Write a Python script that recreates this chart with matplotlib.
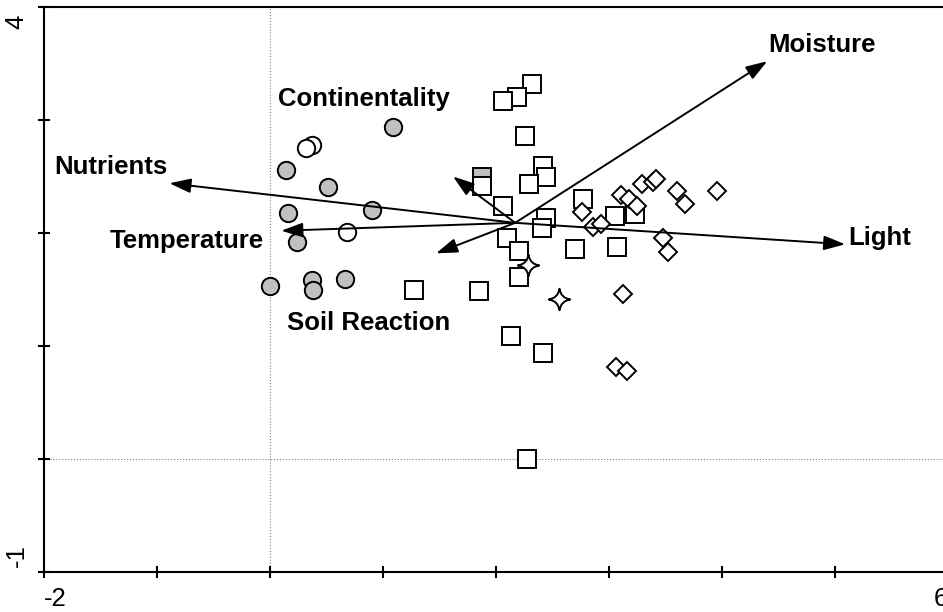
import matplotlib
matplotlib.use('Agg')
import matplotlib.pyplot as plt
from matplotlib.path import Path
from matplotlib.transforms import ScaledTranslation

plt.rcParams['font.family'] = ['Liberation Sans', 'DejaVu Sans']

# site scores
gray_circle_x = [1.09, 0.14, 0.51, 0.16, 0.90, 0.24, 0.00, 0.37, 0.38, 0.66]
gray_circle_y = [2.94, 2.56, 2.41, 2.18, 2.20, 1.92, 1.53, 1.58, 1.50, 1.59]
open_circle_x = [0.37, 0.32, 0.68]
open_circle_y = [2.78, 2.75, 2.01]
gray_square_x = [1.88]
gray_square_y = [2.50]
square_x = [2.32, 2.19, 2.06, 2.26, 1.88, 2.42, 2.44, 2.29, 2.06, 2.77, 2.44, 2.41,
            2.10, 2.20, 2.20, 1.85, 1.27, 2.70, 3.05, 3.07, 3.23, 2.13, 2.42, 2.27]
square_y = [3.32, 3.20, 3.17, 2.86, 2.42, 2.59, 2.50, 2.43, 2.24, 2.30, 2.13, 2.04,
            1.96, 1.84, 1.61, 1.49, 1.50, 1.86, 2.15, 1.88, 2.17, 1.09, 0.94, 0.00]
diamond_x = [2.76, 2.86, 2.93, 3.11, 3.18, 3.25, 3.29, 3.39, 3.42, 3.60, 3.67, 3.96,
             3.48, 3.52, 3.12, 3.06, 3.16]
diamond_y = [2.19, 2.05, 2.08, 2.34, 2.30, 2.24, 2.43, 2.45, 2.48, 2.37, 2.26, 2.37,
             1.96, 1.83, 1.46, 0.81, 0.78]
star_x = [2.28, 2.56]
star_y = [1.72, 1.42]

# environmental vectors
origin = (2.17, 2.09)
vec_names = ['Moisture', 'Light', 'Nutrients', 'Temperature', 'Continentality', 'Soil Reaction']
vec_x = [4.40, 5.09, -0.89, 0.10, 1.62, 1.47]
vec_y = [3.52, 1.90, 2.44, 2.02, 2.50, 1.82]
label_x = [4.41, 5.12, -1.91, -1.42, 0.07, 0.15]
label_y = [3.66, 1.96, 2.58, 1.93, 3.19, 1.20]

fig = plt.figure(figsize=(9.43, 6.12), dpi=100)
ax = fig.add_axes([44 / 943, 40 / 612, 904 / 943, 565 / 612])

ax.axvline(0, color='gray', lw=0.8, ls=':', zorder=1)
ax.axhline(0, color='gray', lw=0.8, ls=':', zorder=1)

gray = '#c0c0c0'
ms_kw = dict(ls='none', mec='black', mew=1.4)
ax.plot(gray_circle_x, gray_circle_y, marker='o', ms=12.5, mfc=gray, zorder=3, **ms_kw)
ax.plot(open_circle_x, open_circle_y, marker='o', ms=12.5, mfc='white', zorder=3, **ms_kw)
ax.plot(gray_square_x, gray_square_y, marker='s', ms=12.5, mfc=gray, zorder=3, **ms_kw)
ax.plot(square_x, square_y, marker='s', ms=12.5, mfc='white', zorder=3, **ms_kw)
ax.plot(diamond_x, diamond_y, marker='D', ms=9, mfc='white', zorder=3, **ms_kw)

# 4 pointed star with curved sides
c = 0.13
star = Path([(0, 1), (c, c), (1, 0), (c, -c), (0, -1), (-c, -c), (-1, 0), (-c, c), (0, 1), (0, 1)],
            [Path.MOVETO] + [Path.CURVE3] * 8 + [Path.CLOSEPOLY])
ax.plot(star_x, star_y, marker=star, ms=15.5, mfc='white', zorder=3, **ms_kw)

for name, vx, vy, lx, ly in zip(vec_names, vec_x, vec_y, label_x, label_y):
    ax.annotate('', xy=(vx, vy), xytext=origin, zorder=5,
                arrowprops=dict(arrowstyle='-|>,head_length=0.65,head_width=0.22',
                                lw=1.4, color='black', shrinkA=0, shrinkB=0,
                                mutation_scale=20))
    ax.text(lx, ly, name, fontsize=18.5, fontweight='bold', ha='left', va='center', zorder=6)

ax.set_xlim(-2, 6)
ax.set_ylim(-1, 4)
ax.set_xticks(range(-2, 7))
ax.set_xticklabels(['-2', '', '', '', '', '', '', '', '6'], fontsize=18.5)
ax.set_yticks(range(-1, 5))
ax.set_yticklabels(['-1', '', '', '', '', '4'], fontsize=18.5, rotation=90)
ax.tick_params(direction='inout', length=8, width=1.5, pad=7)

xl = ax.get_xticklabels()
xl[0].set_ha('left')
xl[-1].set_ha('right')
yl = ax.get_yticklabels()
yl[0].set_va('bottom')
yl[0].set_transform(yl[0].get_transform() + ScaledTranslation(0, 5 / 100, fig.dpi_scale_trans))
yl[-1].set_va('top')
yl[-1].set_transform(yl[-1].get_transform() + ScaledTranslation(0, -8 / 100, fig.dpi_scale_trans))

for s in ax.spines.values():
    s.set_linewidth(1.5)

fig.savefig('out.png', dpi=100)
